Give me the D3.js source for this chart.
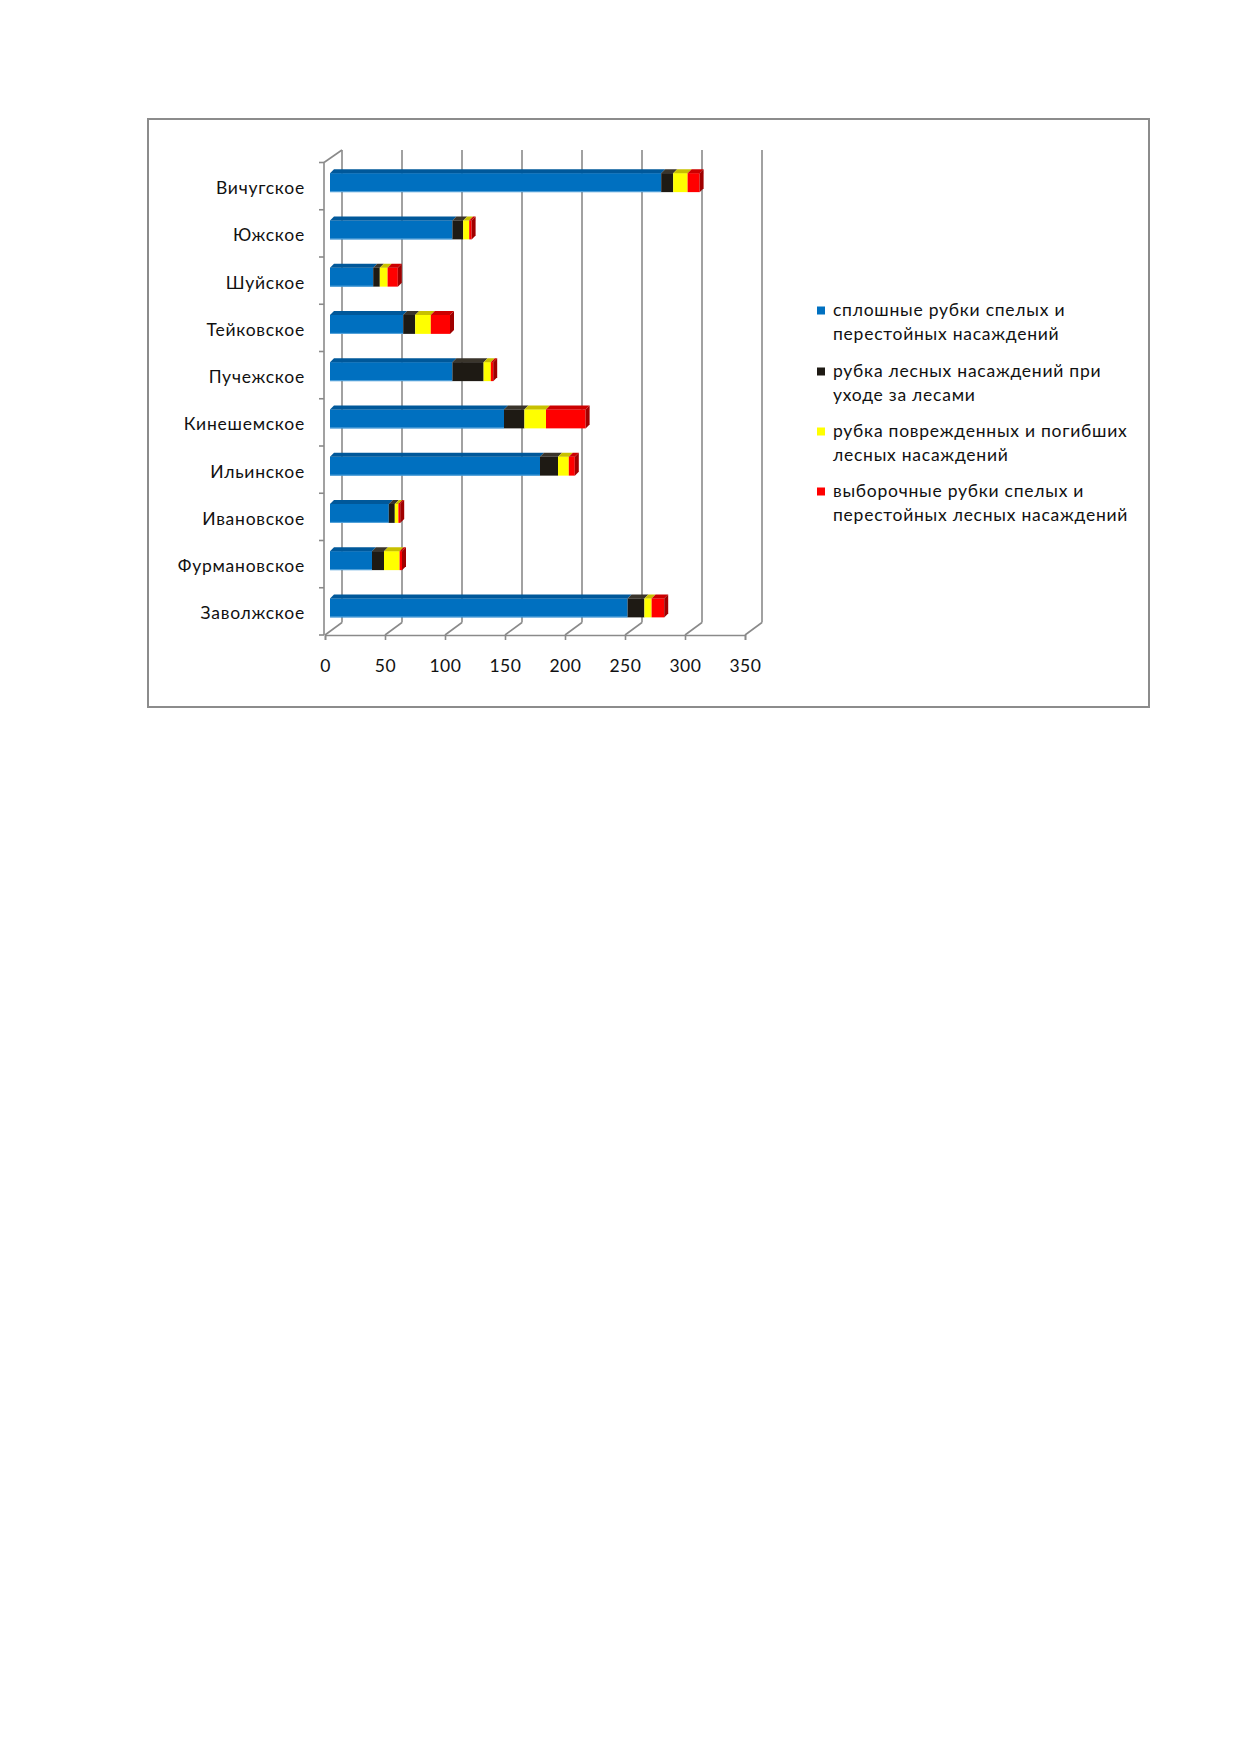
<!DOCTYPE html>
<html><head><meta charset="utf-8">
<script src="https://cdn.jsdelivr.net/npm/d3@7/dist/d3.min.js"></script>
<style>
html,body{margin:0;padding:0;background:#fff;}
svg{display:block;font-family:Lato, "Open Sans", sans-serif;}
</style></head>
<body>
<svg id="c" width="1239" height="1752"></svg>
<script>
const categories = ["Вичугское","Южское","Шуйское","Тейковское","Пучежское","Кинешемское","Ильинское","Ивановское","Фурмановское","Заволжское"];
const seriesNames = [
  ["сплошные рубки спелых и","перестойных насаждений"],
  ["рубка лесных насаждений при","уходе за лесами"],
  ["рубка поврежденных и погибших","лесных насаждений"],
  ["выборочные рубки спелых и","перестойных лесных насаждений"]
];
const clearCut   = [276,102,36,61,102,145,175,49,35,248];
const careCut    = [10,9,5.5,10,26,17,15,5,10,14];
const damagedCut = [12,5,6.5,13,6,18,9,3,13,6];
const selectCut  = [10,2,8.5,16,2,33,5,1.5,2,10.5];
const xTicks = [0,50,100,150,200,250,300,350];

const front = ["#0070C0","#1E1A14","#FFFF00","#FF0000"];
const topc  = ["#00589A","#3A352C","#C8C000","#CC0000"];
const sidec = ["#004C86","#141210","#A8A000","#A00000"];

const svg = d3.select("#c");
const grid = "#8a8a8a";
const LS = 0.75;
// frame
svg.append("rect").attr("x",148).attr("y",119).attr("width",1001).attr("height",588)
  .attr("fill","none").attr("stroke","#8c8c8c").attr("stroke-width",2);

const x = d3.scaleLinear().domain([0,350]).range([325,745]);
const y = d3.scaleBand().domain(categories).range([162.5,635]).paddingInner(0).paddingOuter(0);
const DX = 17, DY = -12.5;
const floorY = 635, wallTop = 150;

const g = svg.append("g");
// back wall gridlines
g.selectAll("line.grid").data(xTicks).join("line")
  .attr("x1",d=>x(d)+DX).attr("x2",d=>x(d)+DX)
  .attr("y1",wallTop).attr("y2",floorY+DY)
  .attr("stroke",grid).attr("stroke-width",1.6);
// floor diagonals
g.selectAll("line.diag").data(xTicks).join("line")
  .attr("x1",d=>x(d)).attr("x2",d=>x(d)+DX)
  .attr("y1",floorY).attr("y2",floorY+DY)
  .attr("stroke",grid).attr("stroke-width",1.6);
// front horizontal axis
const xAxis = d3.axisBottom(x).tickValues(xTicks).tickSize(5).tickPadding(20);
const ax = svg.append("g").attr("transform",`translate(0,${floorY})`).call(xAxis);
ax.select(".domain").attr("stroke",grid).attr("stroke-width",1.6);
ax.selectAll(".tick line").attr("stroke",grid).attr("stroke-width",1.6);
ax.selectAll(".tick text").attr("font-family","Lato").attr("font-size",17.5).attr("letter-spacing",0.6).attr("fill","#111");

// left wall
const leftX = x(0)-1;
g.append("line").attr("x1",leftX).attr("x2",leftX).attr("y1",y.range()[0]).attr("y2",floorY)
  .attr("stroke",grid).attr("stroke-width",1.6);
g.append("line").attr("x1",leftX).attr("x2",leftX+DX+1).attr("y1",y.range()[0]).attr("y2",wallTop)
  .attr("stroke",grid).attr("stroke-width",1.6);
const bounds = categories.map(c=>y(c)).concat([floorY]);
g.selectAll("line.ytick").data(bounds).join("line")
  .attr("x1",leftX-5).attr("x2",leftX).attr("y1",d=>d).attr("y2",d=>d)
  .attr("stroke",grid).attr("stroke-width",1.6);

// category labels
svg.append("g").selectAll("text").data(categories).join("text")
  .attr("x",305).attr("y",d=>y(d)+y.bandwidth()/2+8)
  .attr("text-anchor","end").attr("font-size",17.5).attr("letter-spacing",LS).attr("fill","#111").text(d=>d);

// bars
const rows = categories.map((c,i)=>({cat:c, v:[clearCut[i],careCut[i],damagedCut[i],selectCut[i]]}));
const BX = 5, BD = 3.5, BH = 19, TD = 4; // offsets
const bars = svg.append("g");
rows.forEach(r=>{
  const cy = y(r.cat)+y.bandwidth()/2 - BD;
  const y0 = cy - BH/2, y1 = cy + BH/2;
  let acc = 0; let last = 0;
  r.v.forEach((v,k)=>{
    const xa = x(acc)+BX, xb = x(acc+v)+BX;
    acc += v;
    if (v<=0) return;
    last = k;
    bars.append("rect").attr("x",xa).attr("y",y0).attr("width",xb-xa).attr("height",BH).attr("fill",front[k]);
    bars.append("path").attr("d",`M${xa},${y0}L${xa+TD},${y0-TD}L${xb+TD},${y0-TD}L${xb},${y0}Z`).attr("fill",topc[k]);
    if (k===0) bars.append("line").attr("x1",xa).attr("x2",xb).attr("y1",y1-0.5).attr("y2",y1-0.5).attr("stroke","#5aa6dc").attr("stroke-width",1);
  });
  const xe = x(acc)+BX;
  bars.append("path").attr("d",`M${xe},${y0}L${xe+TD},${y0-TD}L${xe+TD},${y1-TD}L${xe},${y1}Z`).attr("fill",sidec[last]);
});

// legend
const leg = svg.append("g");
const legY = [316,377,437,497];
seriesNames.forEach((lines,i)=>{
  leg.append("rect").attr("x",817).attr("y",legY[i]-9.5).attr("width",8).attr("height",8).attr("fill",front[i]);
  lines.forEach((t,j)=>{
    leg.append("text").attr("x",833).attr("y",legY[i]+j*23.5).attr("font-size",17.5).attr("letter-spacing",LS).attr("fill","#111").text(t);
  });
});
</script>
</body></html>
